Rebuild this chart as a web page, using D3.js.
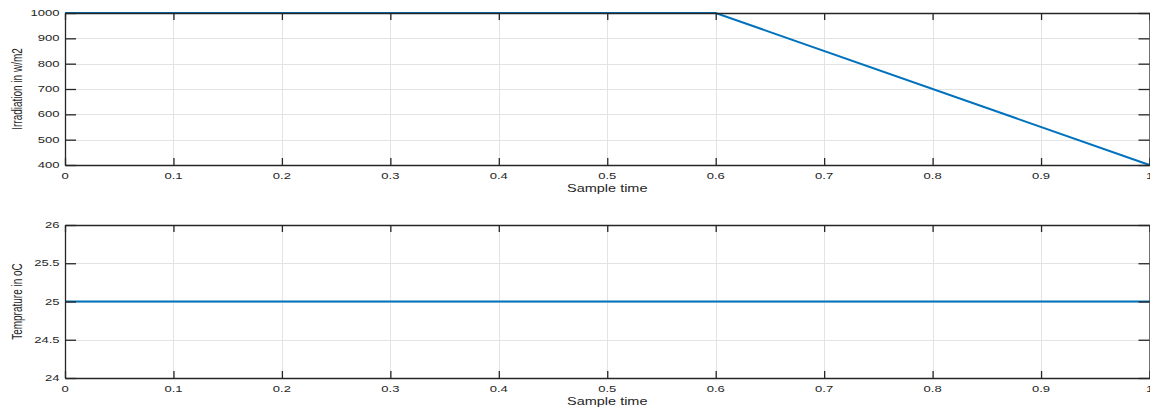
<!DOCTYPE html>
<html><head><meta charset="utf-8">
<script src="https://cdn.jsdelivr.net/npm/d3@7"></script>
<style>body{margin:0;background:#fff}svg{display:block}</style>
</head><body>
<script>
const timeIrr = [0, 0.6, 1];
const irradiance = [1000, 1000, 400];
const timeTemp = [0, 1];
const temperature = [25, 25];
const xTicks = [0, 0.1, 0.2, 0.3, 0.4, 0.5, 0.6, 0.7, 0.8, 0.9, 1];
const irrTicks = [400, 500, 600, 700, 800, 900, 1000];
const tempTicks = [24, 24.5, 25, 25.5, 26];

const W = 1150, H = 409, SX = 1.45;
const svg = d3.select("body").append("svg").attr("width", W).attr("height", H);
const FONT = "Liberation Sans, Arial, Helvetica, sans-serif";
const TXT = "#262626";

function panel(top, bottom, xs, ys, yDomain, yTicks, yLabel) {
  const x = d3.scaleLinear().domain([0, 1]).range([65, 1149.5]);
  const y = d3.scaleLinear().domain(yDomain).range([bottom, top]);
  const g = svg.append("g");
  // grid
  g.selectAll(".gx").data(xTicks.slice(1, -1)).enter().append("line")
    .attr("x1", d => Math.round(x(d)) + 0.5).attr("x2", d => Math.round(x(d)) + 0.5)
    .attr("y1", top).attr("y2", bottom).attr("stroke", "#e3e3e3").attr("stroke-width", 1);
  g.selectAll(".gy").data(yTicks.slice(1, -1)).enter().append("line")
    .attr("y1", d => Math.round(y(d)) + 0.5).attr("y2", d => Math.round(y(d)) + 0.5)
    .attr("x1", x(0)).attr("x2", x(1)).attr("stroke", "#e3e3e3").attr("stroke-width", 1);
  // data line
  const line = d3.line().x((d, i) => x(xs[i])).y(d => y(d));
  g.append("path").datum(ys).attr("d", line).attr("fill", "none")
    .attr("stroke", "#0072BD").attr("stroke-width", 2);
  // axes (inward ticks)
  const ax = (gen, tr) => {
    const a = g.append("g").attr("transform", tr).call(gen);
    a.selectAll("text").remove();
    a.select(".domain").attr("stroke", TXT).attr("stroke-width", 1.3);
    a.selectAll(".tick line").attr("stroke", TXT).attr("stroke-width", 1.3);
    return a;
  };
  ax(d3.axisBottom(x).tickValues(xTicks).tickSize(-7).tickSizeOuter(0), `translate(0,${bottom})`);
  ax(d3.axisTop(x).tickValues(xTicks).tickSize(-7).tickSizeOuter(0), `translate(0,${top})`);
  ax(d3.axisLeft(y).tickValues(yTicks).tickSize(-11).tickSizeOuter(0), `translate(${x(0)},0)`);
  ax(d3.axisRight(y).tickValues(yTicks).tickSize(-11).tickSizeOuter(0), `translate(${x(1)},0)`);
  // tick labels
  g.selectAll(".xl").data(xTicks).enter().append("text")
    .attr("transform", d => `translate(${x(d)},${bottom + 14}) scale(${SX},1)`)
    .attr("text-anchor", "middle").attr("font-family", FONT).attr("font-size", 9)
    .attr("fill", TXT).text(d => d3.format("")(d));
  g.selectAll(".yl").data(yTicks).enter().append("text")
    .attr("transform", d => `translate(59.5,${y(d) + 3}) scale(${SX},1)`)
    .attr("text-anchor", "end").attr("font-family", FONT).attr("font-size", 9)
    .attr("fill", TXT).text(d => d3.format("")(d));
  g.append("text").attr("transform", `translate(${(65 + 1149.5) / 2},${bottom + 27}) scale(${SX},1)`)
    .attr("text-anchor", "middle").attr("font-family", FONT).attr("font-size", 10)
    .attr("fill", TXT).text("Sample time");
  g.append("text").attr("transform", `translate(22,${(top + bottom) / 2}) scale(${SX},1) rotate(-90)`)
    .attr("text-anchor", "middle").attr("font-family", FONT).attr("font-size", 10)
    .attr("fill", TXT).text(yLabel);
}

panel(13, 165, timeIrr, irradiance, [400, 1000], irrTicks, "Irradiation in w/m2");
panel(225, 378, timeTemp, temperature, [24, 26], tempTicks, "Temprature in oC");
</script>
</body></html>
